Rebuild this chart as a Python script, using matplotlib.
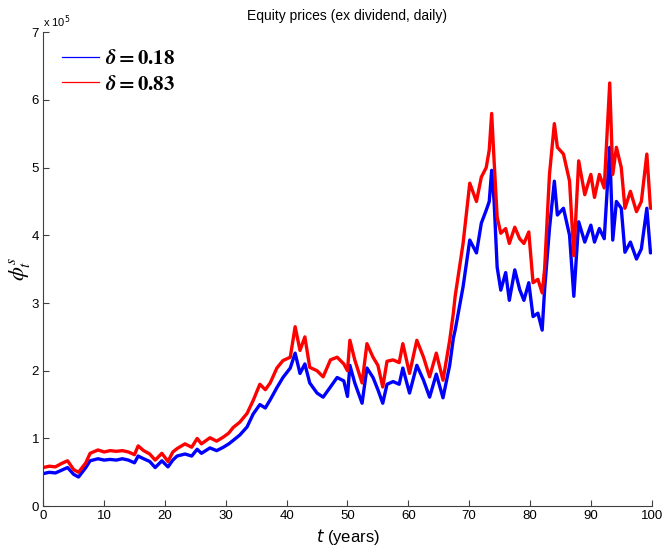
import matplotlib

matplotlib.use("Agg")
import matplotlib.pyplot as plt
from matplotlib.font_manager import FontProperties
from matplotlib.lines import Line2D
import numpy as np

plt.rcParams["font.family"] = ["Liberation Sans", "DejaVu Sans"]

# time (years) and equity prices in units of 1e5
t = [0, 1, 2, 3, 4, 5, 5.8, 7, 7.7, 9, 10, 11, 12, 13, 14, 15, 15.6, 16.5, 17.5, 18.4,
     19.5, 20.5, 21.3, 22, 23.3, 24.4, 25.3, 26, 27.4, 28.5, 29.6, 30.5, 31.2, 32.3, 33.5,
     34.5, 35.6, 36.5, 37.3, 38.4, 39.4, 40.6, 41.4, 42.2, 43, 43.8, 45, 46, 47.2, 48.3,
     49.4, 50, 50.4, 51.2, 52.4, 53.2, 54.2, 55, 55.8, 56.5, 57.5, 58.5, 59.1, 60.2, 61.4,
     62.5, 63.5, 64.6, 65.7, 66.8, 67.4, 67.7, 69, 70.1, 71.2, 72, 72.8, 73.3, 73.7, 74.1,
     74.6, 75.2, 76, 76.6, 77.5, 78.3, 79, 79.8, 80.5, 81.3, 82, 82.4, 83.2, 84, 84.5,
     85.5, 86.5, 87.2, 88, 89, 90, 90.6, 91.4, 92.2, 93.1, 93.6, 94.2, 95, 95.6, 96.5,
     97.5, 98.3, 99.2, 99.8, 100]

low_delta = [0.48, 0.50, 0.49, 0.53, 0.57, 0.47, 0.43, 0.57, 0.67, 0.70, 0.68, 0.69, 0.68,
             0.70, 0.68, 0.64, 0.74, 0.70, 0.66, 0.57, 0.67, 0.58, 0.68, 0.74, 0.77, 0.74,
             0.84, 0.78, 0.86, 0.82, 0.87, 0.92, 0.97, 1.05, 1.17, 1.36, 1.50, 1.45, 1.57,
             1.75, 1.90, 2.04, 2.26, 1.96, 2.10, 1.82, 1.67, 1.61, 1.76, 1.90, 1.85, 1.62,
             2.08, 1.82, 1.52, 2.04, 1.90, 1.72, 1.52, 1.80, 1.84, 1.80, 2.04, 1.67, 2.08,
             1.86, 1.61, 1.95, 1.60, 2.08, 2.48, 2.60, 3.24, 3.93, 3.74, 4.18, 4.37, 4.50,
             4.96, 4.50, 3.53, 3.19, 3.45, 3.04, 3.49, 3.20, 3.04, 3.30, 2.80, 2.85, 2.60,
             3.20, 4.10, 4.80, 4.30, 4.40, 4.00, 3.10, 4.20, 3.90, 4.15, 3.90, 4.10, 3.95,
             5.30, 3.93, 4.50, 4.40, 3.75, 3.90, 3.65, 3.80, 4.40, 3.74, 3.75]

high_delta = [0.57, 0.59, 0.58, 0.63, 0.67, 0.54, 0.50, 0.64, 0.78, 0.83, 0.80, 0.82, 0.81,
              0.82, 0.80, 0.76, 0.89, 0.82, 0.77, 0.68, 0.78, 0.66, 0.80, 0.85, 0.92, 0.87,
              1.00, 0.92, 1.01, 0.96, 1.02, 1.08, 1.16, 1.24, 1.37, 1.56, 1.80, 1.72, 1.82,
              2.04, 2.15, 2.20, 2.65, 2.30, 2.50, 2.05, 2.00, 1.91, 2.16, 2.20, 2.10, 2.00,
              2.45, 2.16, 1.82, 2.40, 2.20, 2.08, 1.76, 2.14, 2.16, 2.12, 2.40, 1.96, 2.45,
              2.20, 1.91, 2.26, 1.86, 2.45, 2.85, 3.10, 3.88, 4.77, 4.50, 4.86, 5.00, 5.26,
              5.80, 5.10, 4.27, 4.03, 4.10, 3.88, 4.12, 3.95, 3.88, 4.05, 3.30, 3.35, 3.15,
              3.50, 4.90, 5.65, 5.30, 5.20, 4.80, 3.70, 5.10, 4.60, 4.90, 4.56, 4.90, 4.70,
              6.25, 4.90, 5.30, 5.00, 4.40, 4.65, 4.35, 4.50, 5.20, 4.40, 4.40]

labels = [r"$\boldsymbol{\delta} \mathbf{= 0.18}$", r"$\boldsymbol{\delta} \mathbf{= 0.83}$"]
colors = ["#0000ff", "#ff0000"]

fig = plt.figure(figsize=(6.65, 5.46), dpi=100)
ax = fig.add_axes([0.065, 0.073, 0.915, 0.868])

ax.plot(t, low_delta, color=colors[0], lw=2.4)
ax.plot(t, high_delta, color=colors[1], lw=2.4)

ax.set_xlim(0, 100)
ax.set_ylim(0, 7)
ax.set_xticks(np.arange(0, 101, 10))
ax.set_yticks(np.arange(0, 8, 1))
ax.tick_params(direction="in", length=4, labelsize=9.5, color="#404040", pad=3)
for side in ["top", "right"]:
    ax.spines[side].set_visible(False)
for side in ["left", "bottom"]:
    ax.spines[side].set_color("#404040")

ax.text(0.0, 1.005, r"x 10$^5$", transform=ax.transAxes, fontsize=8, ha="left", va="bottom")
ax.set_title("Equity prices (ex dividend, daily)", fontsize=10, pad=9)
ax.set_xlabel(r"$t$ (years)", fontsize=12, va="center")
ax.xaxis.set_label_coords(0.5, -0.065)
ax.set_ylabel(r"$\boldsymbol{\phi_t^s}$", fontsize=16, math_fontfamily="stix")
ax.yaxis.set_label_coords(-0.018, 0.5)

handles = [Line2D([], [], color=c, lw=0.9) for c in colors]
ax.legend(handles, labels, loc="upper left", frameon=False,
          prop=FontProperties(size=15, math_fontfamily="stix"),
          handlelength=1.8, handletextpad=0.25, borderaxespad=0.2, labelspacing=0.3,
          bbox_to_anchor=(0.01, 0.99))

fig.savefig("out.png", dpi=100)
